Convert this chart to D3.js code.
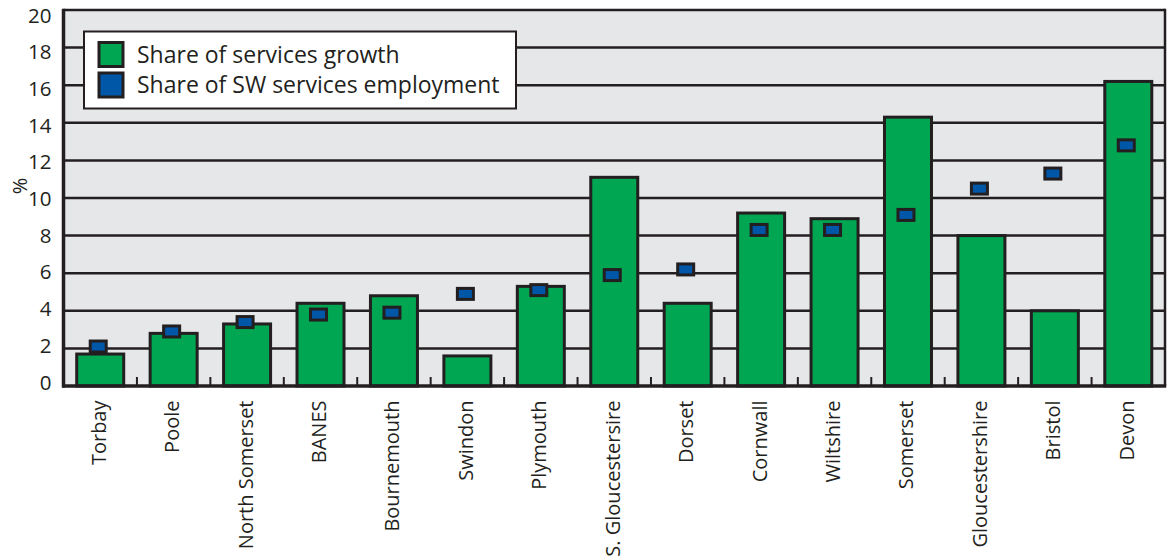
<!DOCTYPE html>
<html>
<head>
<meta charset="utf-8">
<script src="https://cdn.jsdelivr.net/npm/d3@7"></script>
<style>
  html, body { margin: 0; padding: 0; background: #ffffff; }
  svg { display: block; font-family: "Open Sans", "DejaVu Sans", sans-serif; }
</style>
</head>
<body>
<svg id="chart" width="1176" height="560"></svg>
<script>
// Local authority areas, ordered by share of SW services employment
const categories = ["Torbay", "Poole", "North Somerset", "BANES", "Bournemouth", "Swindon",
  "Plymouth", "S. Gloucestersire", "Dorset", "Cornwall", "Wiltshire", "Somerset",
  "Gloucestershire", "Bristol", "Devon"];
// Share of services growth (%)
const growthShare = [1.7, 2.8, 3.3, 4.4, 4.8, 1.6, 5.3, 11.1, 4.4, 9.2, 8.9, 14.3, 8.0, 4.0, 16.2];
// Share of SW services employment (%)
const employmentShare = [2.1, 2.9, 3.4, 3.8, 3.9, 4.9, 5.1, 5.9, 6.2, 8.3, 8.3, 9.1, 10.5, 11.3, 12.8];
const yTicks = [0, 2, 4, 6, 8, 10, 12, 14, 16, 18, 20];
const seriesNames = ["Share of services growth", "Share of SW services employment"];

const ink = "#231f20";
const green = "#00a651";
const blue = "#0057a8";
const plotBg = "#e6e7e8";

const svg = d3.select("#chart");
const plotLeft = 63.5, plotRight = 1165, plotTop = 10, plotBottom = 386;

const x = d3.scaleBand().domain(categories).range([plotLeft, plotRight])
  .paddingInner(0.36).paddingOuter(0.18);
const y = d3.scaleLinear().domain([0, 20]).range([plotBottom, plotTop]);
// tick labels sit on a slightly tighter ladder than the gridlines
const yLabel = d3.scaleLinear().domain([0, 20]).range([382.5, 15.5]);

// plot background
svg.append("rect").attr("x", plotLeft).attr("y", plotTop)
  .attr("width", plotRight - plotLeft).attr("height", plotBottom - plotTop).attr("fill", plotBg);

// horizontal gridlines
svg.append("g").selectAll("line").data(yTicks.filter(d => d > 0)).join("line")
  .attr("x1", plotLeft).attr("x2", plotRight)
  .attr("y1", d => y(d)).attr("y2", d => y(d))
  .attr("stroke", ink).attr("stroke-width", 2.5);

// right frame
svg.append("line").attr("x1", plotRight).attr("x2", plotRight).attr("y1", plotTop - 1.25).attr("y2", plotBottom)
  .attr("stroke", ink).attr("stroke-width", 2.5);

// small ticks between categories on the baseline
const step = x.step();
svg.append("g").selectAll("line").data(d3.range(1, categories.length)).join("line")
  .attr("x1", i => plotLeft + i * step).attr("x2", i => plotLeft + i * step)
  .attr("y1", plotBottom).attr("y2", plotBottom - 9)
  .attr("stroke", ink).attr("stroke-width", 2);

// bars
svg.append("g").selectAll("rect").data(categories).join("rect")
  .attr("x", d => x(d))
  .attr("y", (d, i) => y(growthShare[i]))
  .attr("width", x.bandwidth())
  .attr("height", (d, i) => plotBottom - y(growthShare[i]))
  .attr("fill", green).attr("stroke", ink).attr("stroke-width", 3);

// employment markers
const mw = 16, mh = 11;
svg.append("g").selectAll("rect").data(categories).join("rect")
  .attr("x", d => x(d) + x.bandwidth() / 2 - 2 - mw / 2)
  .attr("y", (d, i) => y(employmentShare[i]) - mh / 2)
  .attr("width", mw).attr("height", mh)
  .attr("fill", blue).attr("stroke", ink).attr("stroke-width", 3);

// axis lines
svg.append("line").attr("x1", plotLeft).attr("x2", plotLeft).attr("y1", plotTop - 1.25).attr("y2", plotBottom + 1.5)
  .attr("stroke", ink).attr("stroke-width", 3.5);
svg.append("line").attr("x1", plotLeft - 1.5).attr("x2", plotRight + 1.25).attr("y1", plotBottom).attr("y2", plotBottom)
  .attr("stroke", ink).attr("stroke-width", 3.5);

// y axis labels
const yAxis = d3.axisLeft(yLabel).tickValues(yTicks).tickSize(0).tickPadding(12);
const gy = svg.append("g").attr("transform", `translate(${plotLeft},0)`).call(yAxis);
gy.select(".domain").remove();
gy.selectAll("text").attr("font-size", 20.5).attr("fill", ink)
  .attr("font-family", "'Open Sans', sans-serif");

svg.append("text").attr("transform", `translate(27,186) rotate(-90)`)
  .attr("text-anchor", "middle").attr("font-size", 20).attr("fill", ink).text("%");

// x axis labels (rotated)
const xAxis = d3.axisBottom(x).tickSize(0).tickPadding(0);
const gx = svg.append("g").attr("transform", `translate(0,${plotBottom})`).call(xAxis);
gx.select(".domain").remove();
gx.selectAll("text")
  .attr("font-size", 20).attr("fill", ink).attr("font-family", "'Open Sans', sans-serif")
  .attr("text-anchor", "end")
  .attr("transform", "rotate(-90)")
  .attr("x", -14.5).attr("y", 5.5).attr("dy", null);

// legend
const lg = svg.append("g");
lg.append("rect").attr("x", 84).attr("y", 31.5).attr("width", 432).attr("height", 77)
  .attr("fill", "#ffffff").attr("stroke", ink).attr("stroke-width", 2);
const legendColors = [green, blue];
seriesNames.forEach((name, i) => {
  const yy = 42.5 + i * 30.5;
  lg.append("rect").attr("x", 99).attr("y", yy).attr("width", 24).attr("height", 24)
    .attr("fill", legendColors[i]).attr("stroke", ink).attr("stroke-width", 3);
  lg.append("text").attr("x", 137).attr("y", yy + 20)
    .attr("font-size", 23).attr("fill", ink).text(name);
});
</script>
</body>
</html>
